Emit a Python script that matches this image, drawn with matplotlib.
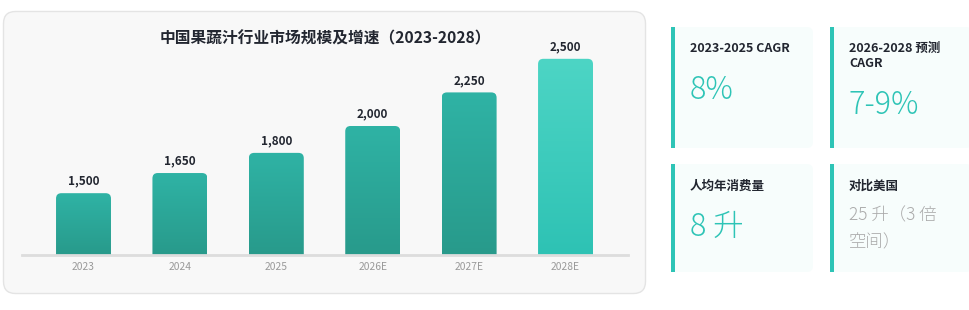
import numpy as np
import matplotlib
matplotlib.use("Agg")
import matplotlib.pyplot as plt
from matplotlib.patches import FancyBboxPatch, Rectangle
from matplotlib.colors import LinearSegmentedColormap
from matplotlib.transforms import Affine2D

plt.rcParams['font.family'] = ['Noto Sans CJK SC', 'DejaVu Sans']

# ---------------- data ----------------
title = "中国果蔬汁行业市场规模及增速（2023-2028）"
years = ["2023", "2024", "2025", "2026E", "2027E", "2028E"]
market_size = [1500, 1650, 1800, 2000, 2250, 2500]

card_labels = ["2023-2025 CAGR", "2026-2028 预测\nCAGR", "人均年消费量", "对比美国"]
card_values = ["8%", "7-9%", "8 升", "25 升（3 倍\n空间）"]

# ---------------- figure in pixel units ----------------
W, H = 969, 310
fig = plt.figure(figsize=(W / 100, H / 100), dpi=100)
fig.patch.set_facecolor("white")
px = Affine2D().scale(1 / W, 1 / H) + fig.transFigure


def box(x, y, w, h, r, **kw):
    # x, y = top-left corner in pixels measured from the top
    p = FancyBboxPatch((x, H - y - h), w, h,
                       boxstyle=f"round,pad=0,rounding_size={r}",
                       transform=px, **kw)
    fig.add_artist(p)
    return p


def text(x, y, s, **kw):
    return fig.text(x, H - y, s, transform=px, **kw)


# left panel
box(3.5, 11.5, 642, 282, 12, fc="#f8f8f8", ec="#e4e4e4", lw=1, zorder=-1)
text(325, 38, title, ha="center", va="center", fontsize=11.3,
     fontweight="bold", color="#222630")

# ---------------- bar chart ----------------
ax = fig.add_axes([22 / W, (H - 255) / H, (628 - 22) / W, (255 - 40) / H])
ax.set_facecolor("none")

ymin, ymax = 1040, 2640
xmin, xmax = -0.638, 5.648
bw = 0.57

cm_hist = LinearSegmentedColormap.from_list("hist", ["#289a8b", "#2fb3a5"])
cm_last = LinearSegmentedColormap.from_list("last", ["#2ec2b4", "#4dd5c5"])
grad = np.linspace(0, 1, 256).reshape(-1, 1)

for i, v in enumerate(market_size):
    x0 = i - bw / 2
    clip = FancyBboxPatch((x0, ymin - 300), bw, v - ymin + 300,
                          boxstyle="round,pad=0,rounding_size=0.055",
                          mutation_aspect=720, fc="none", ec="none")
    ax.add_patch(clip)
    cmap = cm_last if i == len(market_size) - 1 else cm_hist
    im = ax.imshow(grad, extent=[x0, x0 + bw, ymin, v], origin="lower",
                   cmap=cmap, aspect="auto", zorder=2)
    im.set_clip_path(clip)
    ax.annotate(f"{v:,}", (i, v), xytext=(0, 4), textcoords="offset points",
                ha="center", va="bottom", fontsize=8.5, fontweight="bold",
                color="#222630")

ax.set_xlim(xmin, xmax)
ax.set_ylim(ymin, ymax)
ax.set_xticks(range(len(years)))
ax.set_xticklabels(years)
ax.set_yticks([])
ax.tick_params(axis="x", length=0, pad=5, labelsize=7.4, labelcolor="#999999")
for s in ["top", "right", "left"]:
    ax.spines[s].set_visible(False)
ax.spines["bottom"].set_color("#dddddd")
ax.spines["bottom"].set_linewidth(2)
ax.spines["bottom"].set_zorder(3)

# ---------------- KPI cards ----------------
teal = "#2ec4b6"
light = ["Noto Sans CJK JP", "Noto Sans CJK SC"]
cards = [(671, 27, 121), (830, 27, 121), (671, 164, 108), (830, 164, 108)]
label_y = [49, 56, 186, 186]
value_y = [90, 105, 227, 229]
for k, (cx, cy, ch) in enumerate(cards):
    box(cx, cy, 142, ch, 6, fc="#f7fdfc", ec="none", zorder=1)
    fig.add_artist(Rectangle((cx, H - cy - ch), 4, ch, transform=px,
                             fc=teal, ec="none", zorder=2))
    text(cx + 19, label_y[k], card_labels[k], ha="left", va="center",
         fontsize=9, fontweight="bold", color="#222630", linespacing=1.2,
         zorder=3)
    if k < 3:
        text(cx + 19, value_y[k], card_values[k], ha="left", va="center",
             fontsize=22, fontweight=300, family=light, color=teal, zorder=3)
    else:
        text(cx + 19, value_y[k], card_values[k], ha="left", va="center",
             fontsize=12.5, fontweight=300, family=light, color="#aaaaaa",
             linespacing=1.6, zorder=3)

fig.savefig("out.png", dpi=100)
